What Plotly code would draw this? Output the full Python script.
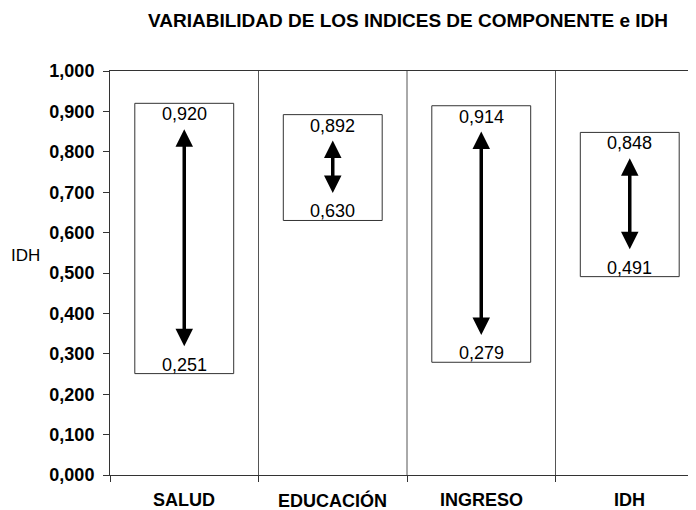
import plotly.graph_objects as go

categories = ["SALUD", "EDUCACIÓN", "INGRESO", "IDH"]
max_vals = [0.920, 0.892, 0.914, 0.848]
min_vals = [0.251, 0.630, 0.279, 0.491]
y_ticks = [0.0, 0.1, 0.2, 0.3, 0.4, 0.5, 0.6, 0.7, 0.8, 0.9, 1.0]

PAD = 8  # browser body margin
W, H = 696 - PAD, 510 - PAD
L, T, B = 110 - PAD, 71 - PAD, 35
cat_px = 148.5
x_max = (W - L) / cat_px

FONT = "Liberation Sans, Arial, sans-serif"
fig = go.Figure()
fig.add_trace(go.Scatter(x=[0.5 + i for i in range(len(categories))], y=max_vals,
                         mode="markers", marker=dict(opacity=0), hoverinfo="skip", showlegend=False))

shapes = []
annotations = []
half = 0.333
off = 0.064
for i, (cat, hi, lo) in enumerate(zip(categories, max_vals, min_vals)):
    c = 0.5 + i
    shapes.append(dict(type="rect", xref="x", yref="y", x0=c - half, x1=c + half, y0=lo, y1=hi,
                       line=dict(color="#333333", width=1), fillcolor="rgba(0,0,0,0)"))
    annotations.append(dict(x=c, y=hi - off, ax=c, ay=lo + off, xref="x", yref="y", axref="x", ayref="y",
                            text="", showarrow=True, arrowhead=2, startarrowhead=2, arrowside="end+start",
                            arrowsize=1.0, startarrowsize=1.0, arrowwidth=3.5, arrowcolor="black"))
    annotations.append(dict(x=c, y=hi, xref="x", yref="y", text=f"{hi:.3f}".replace(".", ","),
                            showarrow=False, yanchor="top", yshift=1,
                            font=dict(family=FONT, size=18, color="black")))
    annotations.append(dict(x=c, y=lo, xref="x", yref="y", text=f"{lo:.3f}".replace(".", ","),
                            showarrow=False, yanchor="bottom", yshift=-3,
                            font=dict(family=FONT, size=18, color="black")))
    annotations.append(dict(x=c, y=0, xref="x", yref="paper", text=f"<b>{cat}</b>", showarrow=False,
                            yanchor="middle", yshift=-25,
                            font=dict(family=FONT, size=18, color="black")))

for k in range(1, 4):
    shapes.append(dict(type="line", xref="x", yref="y", x0=k, x1=k, y0=0, y1=1,
                       line=dict(color="#555555", width=1)))

annotations.append(dict(x=(25 - PAD - L) / (W - L), y=(H - B - (256 - PAD)) / (H - T - B),
                        xref="paper", yref="paper", text="IDH", showarrow=False,
                        xanchor="center", yanchor="middle",
                        font=dict(family=FONT, size=17, color="black")))

fig.update_layout(
    width=W, height=H,
    margin=dict(l=L, r=0, t=T, b=B),
    paper_bgcolor="white", plot_bgcolor="white",
    separators=",.",
    title=dict(text="<b>VARIABILIDAD DE LOS INDICES DE COMPONENTE e IDH</b>",
               x=(408 - PAD) / W, xanchor="center", y=1 - (20 - PAD) / H, yanchor="middle",
               font=dict(family=FONT, size=19, color="black")),
    xaxis=dict(range=[0, x_max], tickvals=[0, 1, 2, 3], ticktext=["", "", "", ""],
               ticks="outside", ticklen=6, tickcolor="#333333", showgrid=False, zeroline=False,
               showline=True, linecolor="#333333", linewidth=1, mirror=True, fixedrange=True),
    yaxis=dict(range=[0, 1], tickvals=y_ticks, tickformat=".3f", ticks="outside", ticklen=6,
               tickcolor="#333333", showgrid=False, zeroline=False, showline=True,
               linecolor="#333333", linewidth=1, ticklabelstandoff=5,
               tickfont=dict(family=FONT, size=18, color="black", weight="bold"), fixedrange=True),
    shapes=shapes, annotations=annotations, showlegend=False,
)

fig.write_html("out.html")
